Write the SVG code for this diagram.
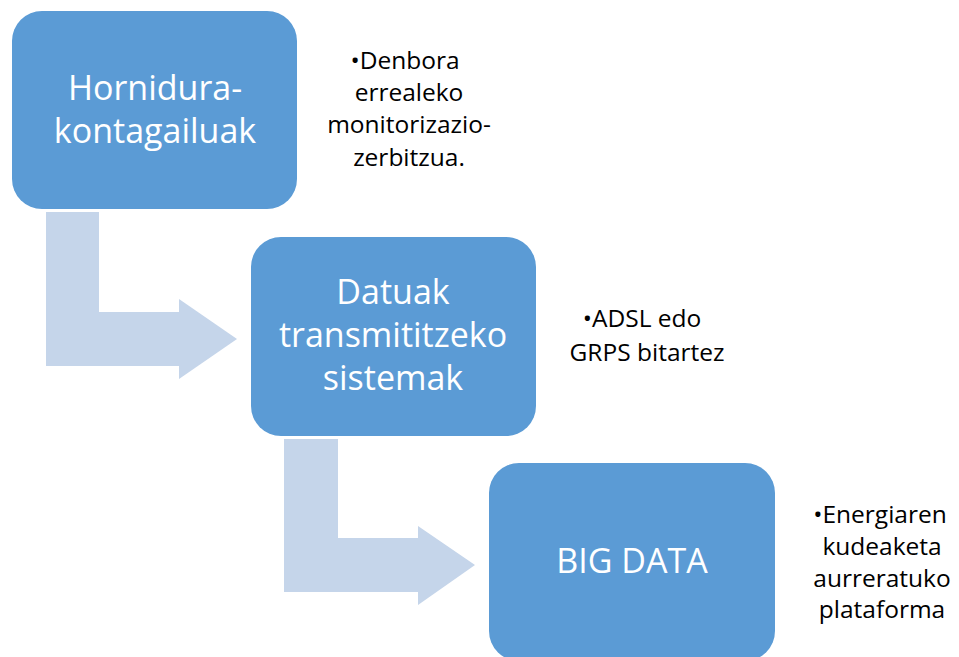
<svg xmlns="http://www.w3.org/2000/svg" width="959" height="657" viewBox="0 0 959 657">
<style>
.box{fill:#5B9BD5}
.arr{fill:#C5D5EA}
.bt{font-family:"Open Sans","Liberation Sans",sans-serif;font-size:34px;fill:#ffffff;text-anchor:middle}
.st{font-family:"Open Sans","Liberation Sans",sans-serif;font-size:24.5px;fill:#000000;text-anchor:middle}
</style>
<rect width="959" height="657" fill="#ffffff"/>
<g id="connectors">
<path class="arr" d="M46,212 H99 V312 H179 V299 L237,339 L179,379 V366 H46 Z"/>
<path class="arr" d="M284,439 H338 V538 H418 V526 L475,565 L418,605 V592 H284 Z"/>
</g>
<g id="node1">
<rect class="box" x="12" y="11" width="285" height="198" rx="30"/>
<text class="bt" x="155" y="100">Hornidura-</text>
<text class="bt" x="155" y="143">kontagailuak</text>
</g>
<g id="node2">
<rect class="box" x="251" y="237" width="285" height="199" rx="30"/>
<text class="bt" x="393" y="304">Datuak</text>
<text class="bt" x="393" y="347">transmititzeko</text>
<text class="bt" x="393" y="390">sistemak</text>
</g>
<g id="node3">
<rect class="box" x="489" y="463" width="286" height="198" rx="30"/>
<text class="bt" x="632" y="573">BIG DATA</text>
</g>
<g id="note1">
<text class="st" x="405" y="69">•Denbora</text>
<text class="st" x="409" y="101">errealeko</text>
<text class="st" x="409" y="133">monitorizazio-</text>
<text class="st" x="409" y="166">zerbitzua.</text>
</g>
<g id="note2">
<text class="st" x="642" y="327">•ADSL edo</text>
<text class="st" x="647" y="361">GRPS bitartez</text>
</g>
<g id="note3">
<text class="st" x="880" y="523">•Energiaren</text>
<text class="st" x="882" y="555">kudeaketa</text>
<text class="st" x="882" y="587">aurreratuko</text>
<text class="st" x="882" y="618">plataforma</text>
</g>
</svg>
